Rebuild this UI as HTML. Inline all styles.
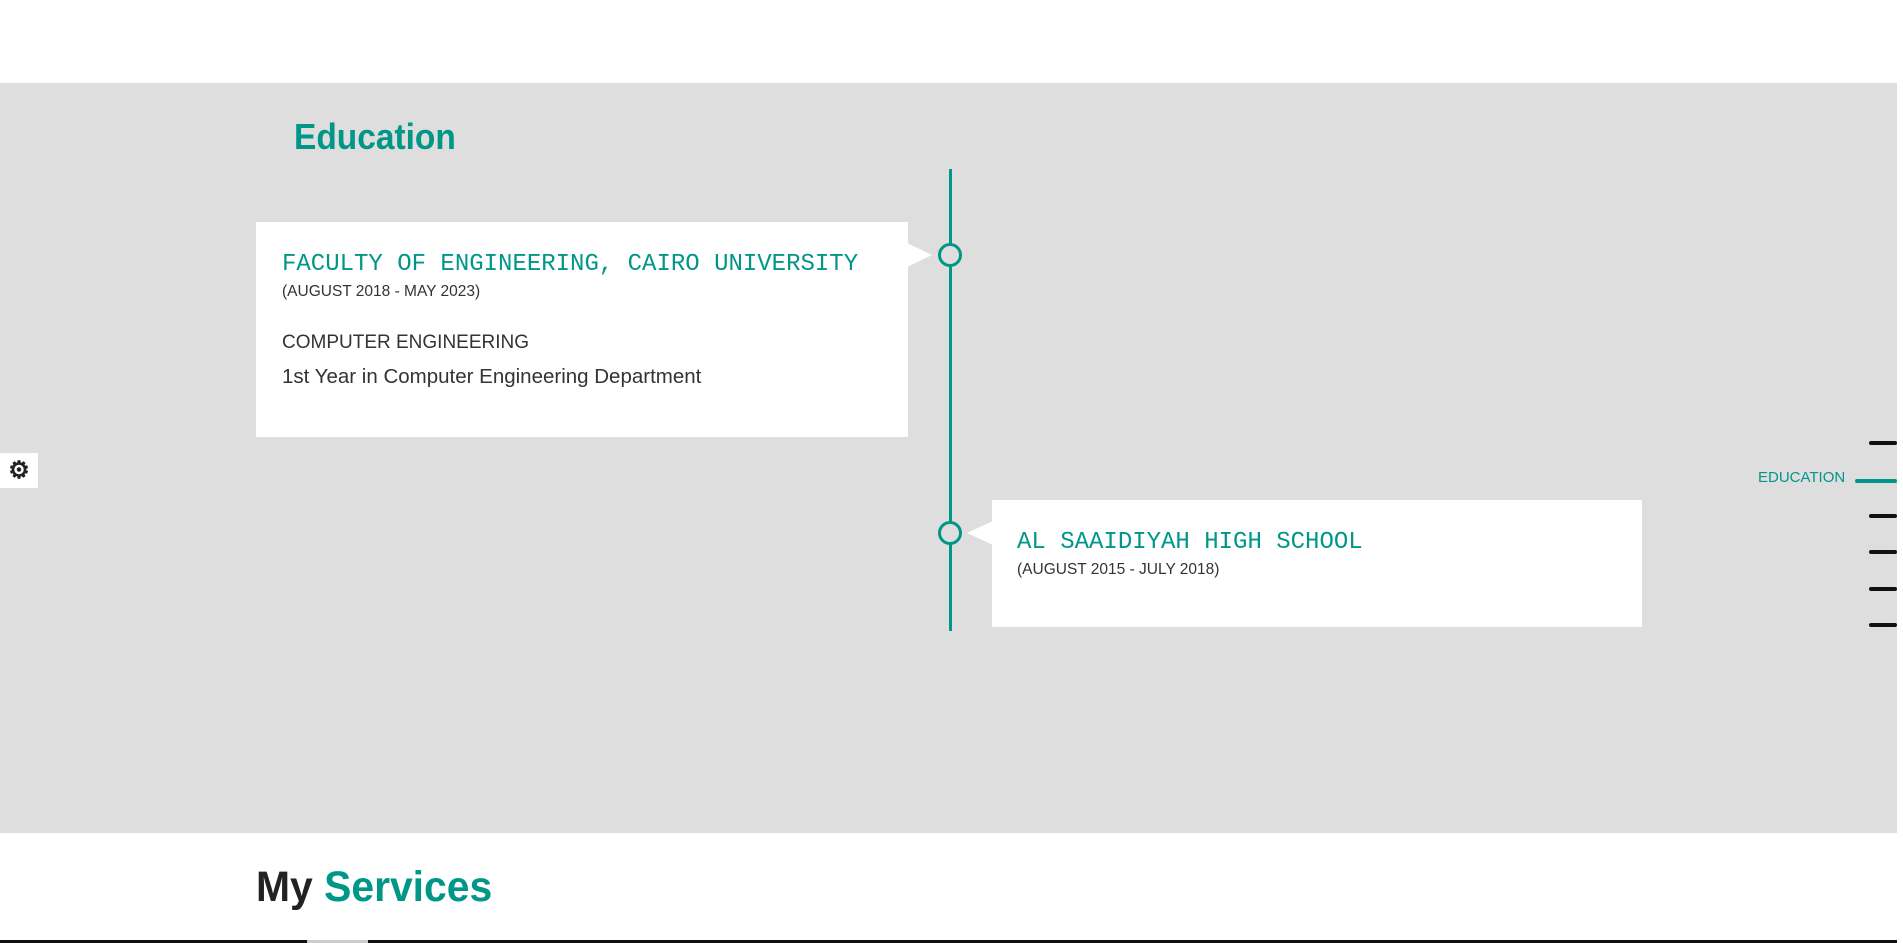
<!DOCTYPE html>
<html><head><meta charset="utf-8"><style>
*{margin:0;padding:0;box-sizing:border-box}
body{width:1903px;height:943px;overflow:hidden;background:#fff;position:relative;font-family:"Liberation Sans",sans-serif}
.a{position:absolute}
.gray{left:0;top:83px;width:1897px;height:750px;background:#dedede}
.card{background:#fff}
.mono{font-family:"Liberation Mono",monospace;color:#009688;font-size:24px;white-space:nowrap}
.date{font-size:15.5px;color:#333;white-space:nowrap}
.dash{height:4px;background:#111;border-radius:2px}
</style></head><body>
<div class="a gray"></div>
<div class="a" style="left:294px;top:116px;font-size:36px;font-weight:bold;color:#009688;transform:scaleX(0.93);transform-origin:0 0">Education</div>
<div class="a" style="left:949px;top:169px;width:3px;height:462px;background:#009688"></div>

<div class="a card" style="left:256px;top:222px;width:652px;height:215px"></div>
<div class="a" style="left:907px;top:243px;width:0;height:0;border-top:12px solid transparent;border-bottom:12px solid transparent;border-left:25px solid #fff"></div>
<div class="a" style="left:938px;top:243px;width:24px;height:24px;border:3px solid #009688;border-radius:50%;background:#dedede"></div>
<div class="a mono" style="left:282px;top:251px">FACULTY OF ENGINEERING, CAIRO UNIVERSITY</div>
<div class="a date" style="left:282px;top:283px">(AUGUST 2018 - MAY 2023)</div>
<div class="a" style="left:282px;top:332px;font-size:19px;color:#333">COMPUTER ENGINEERING</div>
<div class="a" style="left:282px;top:365px;font-size:20.5px;color:#333">1st Year in Computer Engineering Department</div>

<div class="a card" style="left:992px;top:500px;width:650px;height:127px"></div>
<div class="a" style="left:967px;top:521px;width:0;height:0;border-top:12px solid transparent;border-bottom:12px solid transparent;border-right:26px solid #fff"></div>
<div class="a" style="left:938px;top:521px;width:24px;height:24px;border:3px solid #009688;border-radius:50%;background:#dedede"></div>
<div class="a mono" style="left:1017px;top:529px">AL SAAIDIYAH HIGH SCHOOL</div>
<div class="a date" style="left:1017px;top:561px">(AUGUST 2015 - JULY 2018)</div>

<div class="a" style="left:0;top:453px;width:38px;height:35px;background:#fff;text-align:center;font-size:24px;font-weight:bold;line-height:35px;color:#222">⚙</div>

<div class="a dash" style="left:1869px;top:441px;width:28px"></div>
<div class="a" style="left:1758px;top:469px;font-size:15px;color:#009688">EDUCATION</div>
<div class="a dash" style="left:1855px;top:479px;width:42px;background:#009688"></div>
<div class="a dash" style="left:1869px;top:514px;width:28px"></div>
<div class="a dash" style="left:1869px;top:550px;width:28px"></div>
<div class="a dash" style="left:1869px;top:587px;width:28px"></div>
<div class="a dash" style="left:1869px;top:623px;width:28px"></div>

<div class="a" style="left:256px;top:863px;font-size:43px;font-weight:bold;color:#222;white-space:nowrap;transform:scaleX(0.95);transform-origin:0 0">My <span style="color:#009688">Services</span></div>
<div class="a" style="left:0;top:940px;width:1897px;height:3px;background:#111"></div>
<div class="a" style="left:307px;top:940px;width:61px;height:3px;background:#ccc"></div>
</body></html>
